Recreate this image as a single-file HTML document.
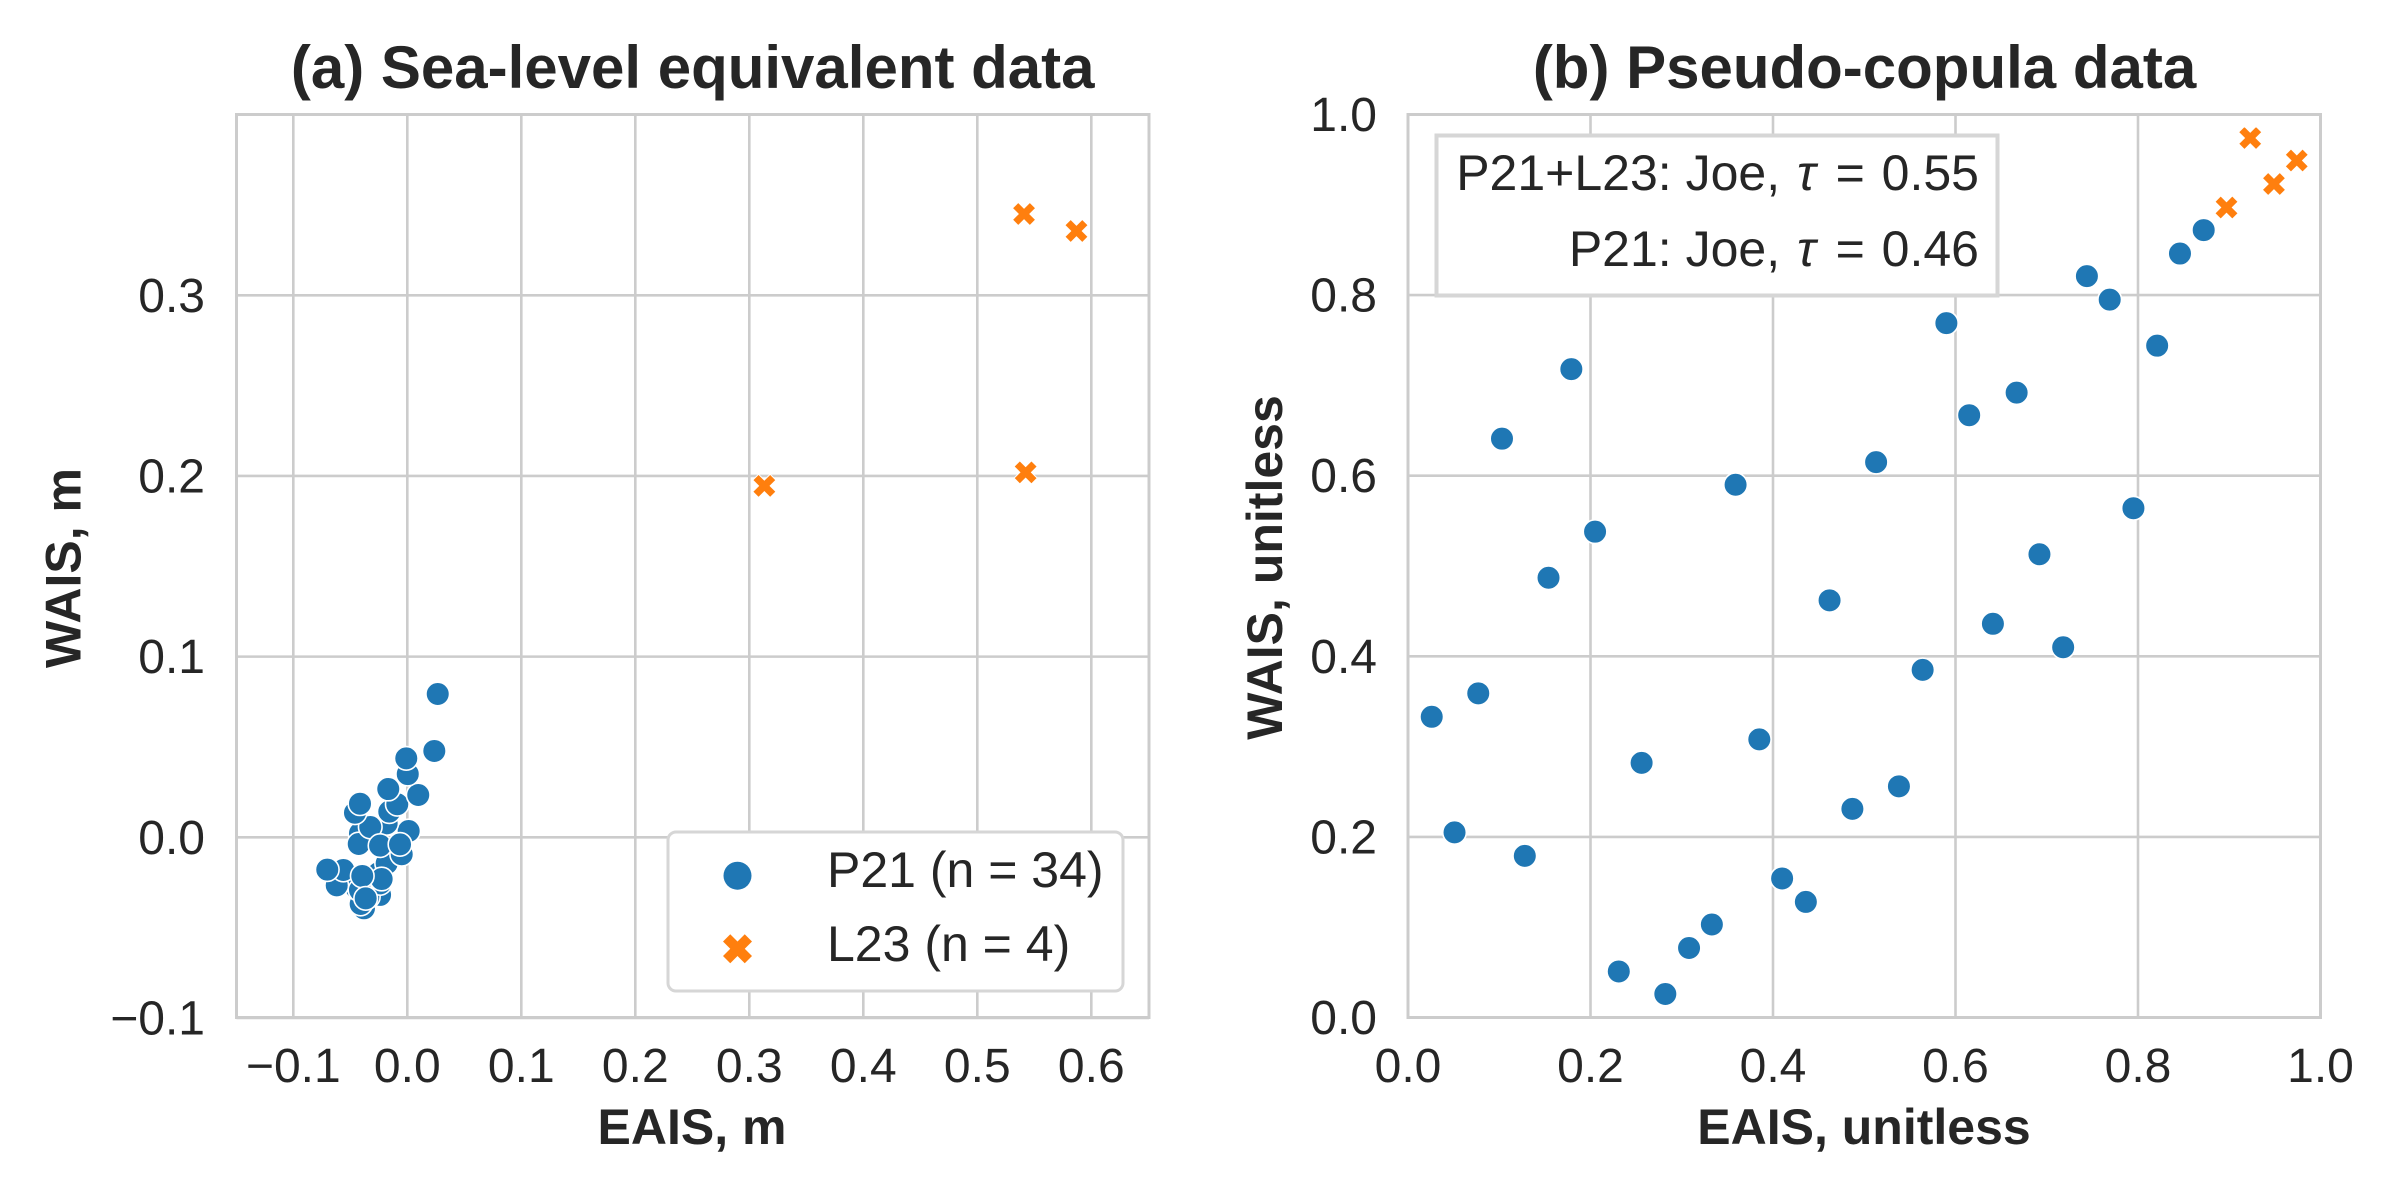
<!DOCTYPE html>
<html lang="en">
<head>
<meta charset="utf-8">
<title>Sea-level equivalent and pseudo-copula scatter plots</title>
<style>
html,body{margin:0;padding:0;background:#fff;width:2400px;height:1200px;overflow:hidden}
svg{display:block}
text{font-family:"Liberation Sans",Arial,sans-serif;fill:#262626}
.tick{font-size:48px}
.title{font-size:60px;font-weight:bold}
.axis-title{font-size:50px;font-weight:bold}
.legend-text{font-size:50px}
.note-text{font-size:50px}
</style>
</head>
<body>
<svg id="chart" width="2400" height="1200" viewBox="0 0 2400 1200" xmlns="http://www.w3.org/2000/svg">
  <rect width="2400" height="1200" fill="#fff"/>
  <g id="panel-a"></g>
  <g id="panel-b"></g>
  <text class="title" x="692.7" y="88" text-anchor="middle">(a) Sea-level equivalent data</text>
  <text class="title" x="1864.5" y="88" text-anchor="middle">(b) Pseudo-copula data</text>
  <text class="axis-title" x="692" y="1144" text-anchor="middle">EAIS, m</text>
  <text class="axis-title" x="1864" y="1144" text-anchor="middle">EAIS, unitless</text>
  <text class="axis-title" transform="translate(80.7 568) rotate(-90)" text-anchor="middle">WAIS, m</text>
  <text class="axis-title" transform="translate(1282 567.5) rotate(-90)" text-anchor="middle">WAIS, unitless</text>
  <g id="legend">
    <rect x="668" y="832" width="455" height="159" rx="8" ry="8" fill="#fff" stroke="#d6d6d6" stroke-width="3"/>
    <circle cx="737.5" cy="875.7" r="14" fill="#1f77b4"/>
    <path id="legend-x" fill="#ff7f0e"/>
    <text class="legend-text" x="827" y="887">P21 (n = 34)</text>
    <text class="legend-text" x="827" y="961">L23 (n = 4)</text>
  </g>
  <g id="note">
    <rect x="1436.5" y="135.5" width="561" height="160" fill="#fff" stroke="#d6d6d6" stroke-width="4"/>
    <text class="note-text" x="1979" y="190" text-anchor="end">P21+L23: Joe, <tspan dx="3" font-style="italic">τ</tspan><tspan dx="6"> = </tspan><tspan dx="3">0.55</tspan></text>
    <text class="note-text" x="1979" y="266" text-anchor="end">P21: Joe, <tspan dx="3" font-style="italic">τ</tspan><tspan dx="6"> = </tspan><tspan dx="3">0.46</tspan></text>
  </g>
</svg>
<script>
// Panel (a) data, metres
const aXTicks = [-0.1, 0.0, 0.1, 0.2, 0.3, 0.4, 0.5, 0.6];
const aXTickLabels = ['−0.1', '0.0', '0.1', '0.2', '0.3', '0.4', '0.5', '0.6'];
const aYTicks = [-0.1, 0.0, 0.1, 0.2, 0.3];
const aYTickLabels = ['−0.1', '0.0', '0.1', '0.2', '0.3'];
const aP21X = [-0.0380, -0.0409, -0.0239, -0.0444, -0.0619, -0.0342, -0.0239, -0.0298, -0.0254, -0.0181, -0.0561, -0.0225, -0.0415, -0.0702, -0.0395, -0.0365, -0.0049, 0.0012, -0.0181, -0.0415, -0.0426, -0.0325, -0.0239, -0.0064, -0.0459, -0.0415, -0.0158, -0.0088, -0.0167, 0.0096, 0.0004, -0.0009, 0.0237, 0.0267];
const aP21Y = [-0.0393, -0.0369, -0.0319, -0.0282, -0.0266, -0.0329, -0.0255, -0.0218, -0.0199, -0.0144, -0.0181, -0.0231, -0.0292, -0.0179, -0.0214, -0.0338, -0.0094, 0.0035, 0.0077, 0.0022, -0.0037, 0.0057, -0.0046, -0.0039, 0.0136, 0.0186, 0.0142, 0.0183, 0.0267, 0.0234, 0.0350, 0.0437, 0.0478, 0.0793];
const aL23X = [0.3132, 0.5424, 0.5410, 0.5870];
const aL23Y = [0.1945, 0.2020, 0.3450, 0.3356];

// Panel (b) data, unitless
const bTicks = [0.0, 0.2, 0.4, 0.6, 0.8, 1.0];
const bTickLabels = ['0.0', '0.2', '0.4', '0.6', '0.8', '1.0'];
const bP21X = [0.026, 0.051, 0.077, 0.103, 0.128, 0.154, 0.179, 0.205, 0.231, 0.256, 0.282, 0.308, 0.333, 0.359, 0.385, 0.410, 0.436, 0.462, 0.487, 0.513, 0.538, 0.564, 0.590, 0.615, 0.641, 0.667, 0.692, 0.718, 0.744, 0.769, 0.795, 0.821, 0.846, 0.872];
const bP21Y = [0.333, 0.205, 0.359, 0.641, 0.179, 0.487, 0.718, 0.538, 0.051, 0.282, 0.026, 0.077, 0.103, 0.590, 0.308, 0.154, 0.128, 0.462, 0.231, 0.615, 0.256, 0.385, 0.769, 0.667, 0.436, 0.692, 0.513, 0.410, 0.821, 0.795, 0.564, 0.744, 0.846, 0.872];
const bL23X = [0.897, 0.923, 0.949, 0.974];
const bL23Y = [0.897, 0.974, 0.923, 0.949];

const SVG_NS = 'http://www.w3.org/2000/svg';
const BLUE = '#1f77b4';
const ORANGE = '#ff7f0e';
const GRID = '#cccccc';

function make(tag, parent, attrs) {
  const el = document.createElementNS(SVG_NS, tag);
  for (const k in attrs) el.setAttribute(k, attrs[k]);
  parent.appendChild(el);
  return el;
}

// Filled "X" marker outline centred on (cx, cy), half-size h
function xPath(cx, cy, h) {
  const u = h / 2;
  const shape = [[-1,-2],[0,-1],[1,-2],[2,-1],[1,0],[2,1],[1,2],[0,1],[-1,2],[-2,1],[-1,0],[-2,-1]];
  return 'M' + shape.map(p => (cx + p[0] * u).toFixed(2) + ' ' + (cy + p[1] * u).toFixed(2)).join('L') + 'Z';
}

function drawPanel(cfg) {
  const g = document.getElementById(cfg.id);
  const sx = v => cfg.x0 + (v - cfg.xMin) * cfg.xScale;
  const sy = v => cfg.y0 - (v - cfg.yMin) * cfg.yScale;
  const left = cfg.left, right = cfg.right, top = cfg.top, bottom = cfg.bottom;

  cfg.xTicks.forEach((v, i) => {
    const line = make('line', g, { x1: sx(v), x2: sx(v), y1: top, y2: bottom, stroke: GRID, 'stroke-width': 2.6 });
    
    
    const label = make('text', g, { x: sx(v), y: 1082, 'text-anchor': 'middle', class: 'tick' });
    
    
    label.textContent = cfg.xLabels[i];
  });
  cfg.yTicks.forEach((v, i) => {
    const line = make('line', g, { x1: left, x2: right, y1: sy(v), y2: sy(v), stroke: GRID, 'stroke-width': 2.6 });
    
    
    const label = make('text', g, { x: cfg.yLabelX, y: sy(v) + 16.5, 'text-anchor': 'end', class: 'tick' });
    
    
    label.textContent = cfg.yLabels[i];
  });

  const frame = make('rect', g, { x: left, y: top, width: right - left, height: bottom - top, fill: 'none', stroke: GRID, 'stroke-width': 3 });
  
  

  cfg.p21X.forEach((v, i) => {
    const dot = make('circle', g, { cx: sx(v), cy: sy(cfg.p21Y[i]), r: 11.8, fill: BLUE, stroke: '#fff', 'stroke-width': 1.6 });
    
    
  });
  cfg.l23X.forEach((v, i) => {
    const mark = make('path', g, { d: xPath(sx(v), sy(cfg.l23Y[i]), 11.6), fill: ORANGE, stroke: '#fff', 'stroke-width': 1 });
    
    
  });
}

drawPanel({
  id: 'panel-a', left: 236.5, right: 1149, top: 114.5, bottom: 1017.5,
  x0: 407.3, xMin: 0, xScale: 1140, y0: 837.3, yMin: 0, yScale: 1806.7, yLabelX: 205,
  xTicks: aXTicks, xLabels: aXTickLabels, yTicks: aYTicks, yLabels: aYTickLabels,
  p21X: aP21X, p21Y: aP21Y, l23X: aL23X, l23Y: aL23Y
});
drawPanel({
  id: 'panel-b', left: 1408, right: 2320.5, top: 114.5, bottom: 1017.5,
  x0: 1408, xMin: 0, xScale: 912.5, y0: 1017.5, yMin: 0, yScale: 903, yLabelX: 1377,
  xTicks: bTicks, xLabels: bTickLabels, yTicks: bTicks, yLabels: bTickLabels,
  p21X: bP21X, p21Y: bP21Y, l23X: bL23X, l23Y: bL23Y
});
document.getElementById('legend-x').setAttribute('d', xPath(737.5, 948.7, 14.5));
</script>
</body>
</html>
